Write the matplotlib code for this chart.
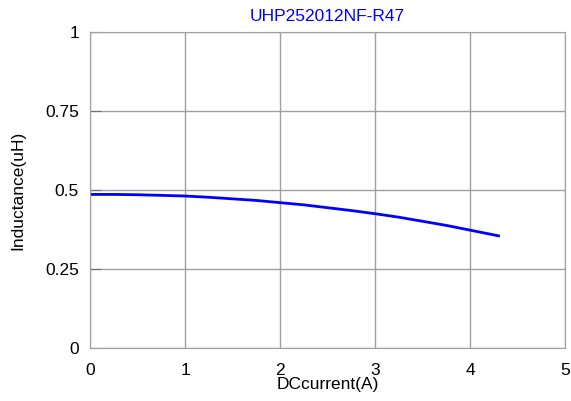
import matplotlib.pyplot as plt

plt.rcParams["font.family"] = ["Liberation Sans", "DejaVu Sans"]

# 電流與電感量
current = [0.0, 0.25, 0.5, 0.75, 1.0, 1.25, 1.5, 1.75, 2.0, 2.25, 2.5, 2.75,
           3.0, 3.25, 3.5, 3.75, 4.0, 4.15, 4.3]
inductance = [0.486, 0.486, 0.485, 0.483, 0.481, 0.477, 0.472, 0.467, 0.460,
              0.453, 0.444, 0.435, 0.425, 0.414, 0.401, 0.388, 0.373, 0.364, 0.355]

x_ticks = [0, 1, 2, 3, 4, 5]
y_ticks = [0, 0.25, 0.5, 0.75, 1]
y_tick_labels = ["0", "0.25", "0.5", "0.75", "1"]

fig = plt.figure(figsize=(5.71, 4.01), dpi=100)
ax = fig.add_axes([90 / 571, 1 - 348 / 401, 475 / 571, 316 / 401])

ax.plot(current, inductance, color="#0000ff", linewidth=2)

ax.set_xlim(0, 5)
ax.set_ylim(0, 1)
ax.set_xticks(x_ticks)
ax.set_yticks(y_ticks)
ax.set_yticklabels(y_tick_labels)
ax.grid(True, color="#a0a0a0", linewidth=1)
ax.tick_params(axis="x", length=0, pad=11, labelsize=12.5)
ax.tick_params(axis="y", direction="in", length=8, color="#707070", pad=8, labelsize=12.5)
for s in ax.spines.values():
    s.set_color("#a0a0a0")

ax.set_title("UHP252012NF-R47", color="#0000ff", fontsize=12.5, pad=8)
ax.set_xlabel("DCcurrent(A)", fontsize=12.5, labelpad=-1)
ax.set_ylabel("Inductance(uH)", fontsize=12.5, labelpad=14)

fig.savefig("out.png", dpi=100)
